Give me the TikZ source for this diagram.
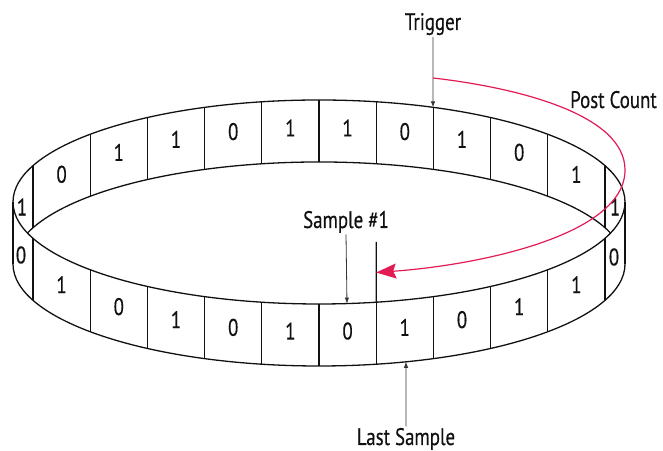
\documentclass[tikz,border=0pt]{standalone}
\usepackage{fontspec}
\setmainfont{PT Sans}[FakeStretch=0.79, FakeBold=0.4]
\usetikzlibrary{arrows.meta,calc}
\definecolor{ink}{HTML}{111111}
\definecolor{countred}{HTML}{E31B54}
\tikzset{
  every node/.style={font=\fontsize{24}{27}\selectfont, text=ink},
  rim/.style={draw=ink, line width=1.3bp},
  divider/.style={draw=ink, line width=1.2bp},
  bit/.style={inner sep=0pt},
  lbl/.style={inner sep=1.5bp},
  ptr/.style={-{Latex[length=6bp, width=4.5bp]}, draw=ink!85, line width=0.8bp},
  countarr/.style={-{Stealth[length=20bp, width=15bp, inset=3bp]}, draw=countred, line width=1.2bp},
}

\begin{document}
\begin{tikzpicture}[x=1bp, y=1bp]
\useasboundingbox (0,0) rectangle (663,451);

% --- ring: top rim centre, bottom rim centre ---
\coordinate (topc) at (319,249);
\coordinate (botc) at (319,187);

\draw[rim] (topc) ellipse [x radius=306, y radius=102];
\draw[rim] ($(botc)+(180:306 and 102)$) arc[start angle=180, end angle=360, x radius=306, y radius=102];
\draw[rim] ($(topc)+(180:306 and 102)$) -- ($(botc)+(180:306 and 102)$);
\draw[rim] ($(topc)+(0:306 and 102)$) -- ($(botc)+(0:306 and 102)$);
% inner lower edge of the far wall
\draw[rim] ($(botc)+(17.7:306 and 102)$) arc[start angle=17.7, end angle=162.3, x radius=306, y radius=102];

% --- cell dividers, far wall and near wall ---
\foreach \k in {0,...,10}{
  \pgfmathsetmacro\xb{33+57.2*\k}
  \pgfmathsetmacro\u{(\xb-319)/306}
  \pgfmathsetmacro\s{102*sqrt(1-(\u)*(\u))}
  \draw[divider] (\xb,{249+\s}) -- (\xb,{187+\s});
  \draw[divider] (\xb,{249-\s}) -- (\xb,{187-\s});
}

% --- stored bits ---
\foreach \b [count=\i from 0] in {0,1,1,0,1,1,0,1,0,1}{
  \pgfmathsetmacro\xc{61.6+57.2*\i}
  \pgfmathsetmacro\u{(\xc-319)/306}
  \pgfmathsetmacro\s{102*sqrt(1-(\u)*(\u))}
  \node[bit] (far\i) at (\xc,{221.5+\s}) {\b};
}
\foreach \b [count=\i from 0] in {1,0,1,0,1,0,1,0,1,1}{
  \pgfmathsetmacro\xc{61.6+57.2*\i}
  \pgfmathsetmacro\u{(\xc-319)/306}
  \pgfmathsetmacro\s{102*sqrt(1-(\u)*(\u))}
  \node[bit] (near\i) at (\xc,{221.5-\s}) {\b};
}
\node[bit] (farL) at (22,244) {1};
\node[bit] (nearL) at (21,196) {0};
\node[bit] (farR) at (615,244) {1};
\node[bit] (nearR) at (614,194) {0};

% --- labels ---
\node[lbl, anchor=base] (trig) at (433,421) {Trigger};
\node[lbl, anchor=base] (post) at (613.5,343) {Post Count};
\node[lbl, anchor=base] (samp) at (346,223) {Sample \#1};
\node[lbl, anchor=base] (last) at (406,6) {Last Sample};

% --- pointers ---
\coordinate (trigtip) at ($(topc)+({acos(114/306)}:306 and 102)$);
\coordinate (samptip) at ($(topc)+({-acos(28/306)}:306 and 102)$);
\coordinate (lasttip) at ($(botc)+({-acos(87/306)}:306 and 102)$);
\coordinate (mark) at (376.2,209);
\coordinate (markfoot) at ($(topc)+({-acos(57.2/306)}:306 and 102)$);

\draw[ptr] (trig.south) -- (trigtip);
\draw[ptr] (samp.south) -- (samptip);
\draw[ptr] (last.north) -- (lasttip);
\draw[divider] (mark) -- (markfoot);

% --- post count sweep ---
\coordinate (pcstart) at (433,373);
\coordinate (pcend) at (376.2,178.5);
\draw[countarr] (pcstart) .. controls (520,363) and (625,336) .. (625,281)
  .. controls (625,216) and (480,186) .. (pcend);

\end{tikzpicture}
\end{document}
